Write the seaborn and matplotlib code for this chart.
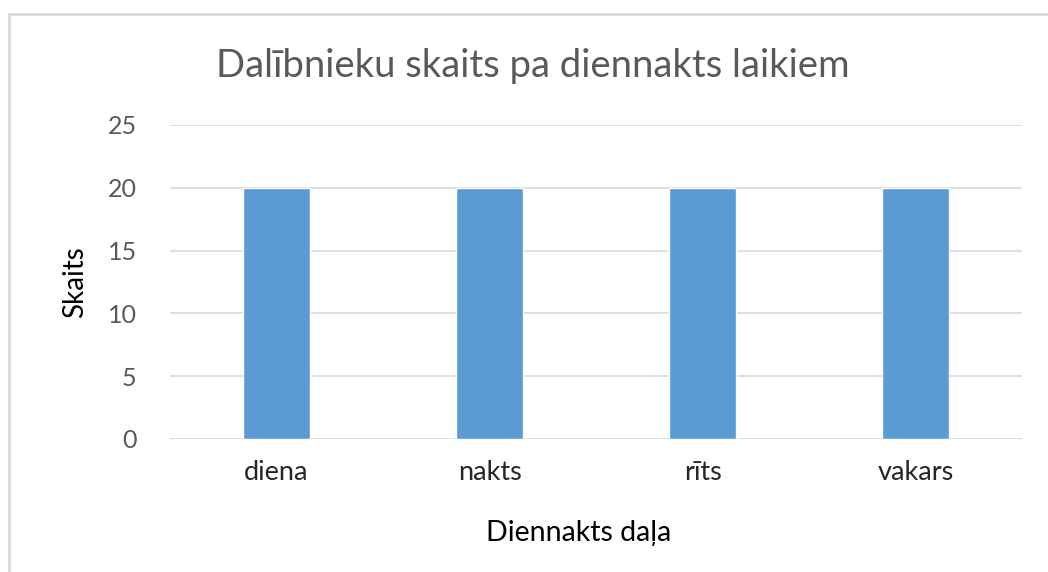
import pandas as pd
import matplotlib.pyplot as plt
import seaborn as sns
from matplotlib.patches import Rectangle

# data
categories = ['diena', 'nakts', 'rīts', 'vakars']
counts = [20, 20, 20, 20]
yticks = [0, 5, 10, 15, 20, 25]

df = pd.DataFrame({'Diennakts daļa': categories, 'Skaits': counts})

sns.set_theme(style='white')
plt.rcParams['font.family'] = ['Lato', 'DejaVu Sans']

W, H = 1048, 572
fig = plt.figure(figsize=(W / 100, H / 100), dpi=100)
ax = fig.add_axes([170 / W, 1 - 439 / H, (1022 - 170) / W, (439 - 125) / H])

sns.barplot(data=df, x='Diennakts daļa', y='Skaits', color='#5B9BD5',
            width=0.31, saturation=1, ax=ax)

ax.set_ylim(0, 25)
ax.set_yticks(yticks)
ax.set_xlim(-0.5, len(categories) - 0.5)
ax.yaxis.grid(True, color='#d9d9d9', linewidth=1.2)
ax.set_axisbelow(True)
for s in ax.spines.values():
    s.set_visible(False)
ax.tick_params(axis='y', length=0, pad=24, labelsize=18, labelcolor='#595959')
ax.tick_params(axis='x', length=0, pad=15, labelsize=19.5, labelcolor='#262626')
ax.set_xlabel('')
ax.set_ylabel('')

fig.text(533 / W, 1 - 66 / H, 'Dalībnieku skaits pa diennakts laikiem',
         ha='center', va='center', fontsize=27.5, color='#595959')
fig.text(75 / W, 1 - 282 / H, 'Skaits', rotation=90, ha='center', va='center',
         fontsize=20, color='#000000')
fig.text(579 / W, 1 - 533 / H, 'Diennakts daļa', ha='center', va='center',
         fontsize=20.5, color='#000000')

# chart border
fig.patches.append(Rectangle((9 / W, -0.1), 1.2, (H - 14) / H + 0.1,
                             transform=fig.transFigure, fill=False,
                             edgecolor='#d9d9d9', linewidth=2))

plt.savefig('out.png', dpi=100)
